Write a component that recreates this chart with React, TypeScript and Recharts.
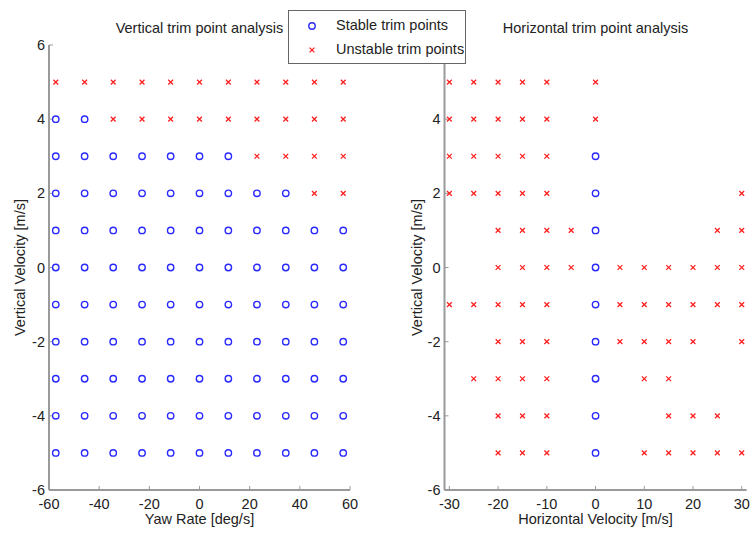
import React from "react";
import {Label, Legend, Scatter, ScatterChart, XAxis, YAxis} from "recharts";

// vertical velocity rows, top to bottom [m/s]
const vertVel = [5, 4, 3, 2, 1, 0, -1, -2, -3, -4, -5];
// yaw rate columns [deg/s]
const yawRate = [-57.3, -45.8, -34.4, -22.9, -11.5, 0, 11.5, 22.9, 34.4, 45.8, 57.3];
// horizontal velocity columns [m/s]
const horizVel = [-30, -25, -20, -15, -10, -5, 0, 5, 10, 15, 20, 25, 30];

// o = stable, x = unstable, . = no trim point (one string per row of vertVel)
const yawGrid = [
    "xxxxxxxxxxx",
    "ooxxxxxxxxx",
    "oooooooxxxx",
    "oooooooooxx",
    "ooooooooooo",
    "ooooooooooo",
    "ooooooooooo",
    "ooooooooooo",
    "ooooooooooo",
    "ooooooooooo",
    "ooooooooooo",
];
const horizGrid = [
    "xxxxx.x......",
    "xxxxx.x......",
    "xxxxx.o......",
    "xxxxx.o.....x",
    "..xxxxo....xx",
    "..xxxxoxxxxxx",
    "xxxxx.oxxxxxx",
    "..xxx.oxxxx.x",
    ".xxxx.o.xx...",
    "..xxx.o..xxx.",
    "..xxx.o.xxxxx",
];

const yTicks = [-6, -4, -2, 0, 2, 4, 6];
// top tick of the right plot sits under the legend
const yTicksRight = [-6, -4, -2, 0, 2, 4];
const yawTicks = [-60, -40, -20, 0, 20, 40, 60];
const horizTicks = [-30, -20, -10, 0, 10, 20, 30];

type Pt = {x: number, y: number};

const pick = (cols: number[], grid: string[], mark: string): Pt[] => {
    const out: Pt[] = [];
    grid.forEach((row, i) => {
        row.split("").forEach((c, j) => {
            if (c === mark) out.push({x: cols[j], y: vertVel[i]});
        });
    });
    return out;
};

const yawStable = pick(yawRate, yawGrid, "o");
const yawUnstable = pick(yawRate, yawGrid, "x");
const horizStable = pick(horizVel, horizGrid, "o");
const horizUnstable = pick(horizVel, horizGrid, "x");

const BLUE = "#2a2aff";
const RED = "#ff2020";
const AXIS = "#9a9a9a";
const TXT = "#222";
const FS = 14.5;

const Ring = (p: any) => <circle cx={p.cx} cy={p.cy} r={3.2} fill="none" stroke={BLUE} strokeWidth={1.4}/>;
const Cross = (p: any) => {
    const {cx, cy} = p;
    const s = 2.4;
    return <path d={`M${cx - s},${cy - s}L${cx + s},${cy + s}M${cx - s},${cy + s}L${cx + s},${cy - s}`}
                 stroke={RED} strokeWidth={1.3} fill="none"/>;
};

const LegendBox = () => <div style={{
    width: 178, height: 54, border: "1px solid #666", background: "#fff",
    fontSize: FS, color: TXT, boxSizing: "border-box", position: "relative"
}}>
    <svg width={20} height={52} style={{position: "absolute", left: 13, top: 0}}>
        <circle cx={10} cy={15} r={3.2} fill="none" stroke={BLUE} strokeWidth={1.4}/>
        <path d="M7.6,36.6L12.4,41.4M7.6,41.4L12.4,36.6" stroke={RED} strokeWidth={1.3}/>
    </svg>
    <div style={{position: "absolute", left: 47, top: 6, whiteSpace: "nowrap"}}>Stable trim points</div>
    <div style={{position: "absolute", left: 47, top: 30, whiteSpace: "nowrap"}}>Unstable trim points</div>
</div>;

const axisProps = {
    axisLine: {stroke: AXIS, strokeWidth: 2},
    tickLine: {stroke: AXIS},
    tickSize: -4,
    tick: {fontSize: FS, fill: TXT},
};

const App: React.FC = () => {
    return <div style={{
        position: "absolute", left: 0, top: 0, width: 752, height: 534, background: "#fff",
        fontFamily: '"Liberation Sans", Arial, sans-serif'
    }}>
        <div style={{position: "absolute", left: 0, top: 0, zIndex: 2}}>
            <ScatterChart width={376} height={534} margin={{top: 45, right: 26, bottom: 0, left: 0}}>
                <XAxis type="number" dataKey="x" domain={[-60, 60]} ticks={yawTicks} height={44}
                       tickMargin={13} interval={0} {...axisProps}>
                    <Label value="Yaw Rate [deg/s]" position="insideBottom" offset={10}
                           style={{fontSize: FS, fill: TXT}}/>
                </XAxis>
                <YAxis type="number" dataKey="y" domain={[-6, 6]} ticks={yTicks} width={49}
                       tickMargin={8} interval={0} {...axisProps}>
                    <Label value="Vertical Velocity [m/s]" angle={-90} position="insideLeft" offset={20}
                           style={{fontSize: FS, fill: TXT, textAnchor: "middle"}}/>
                </YAxis>
                <Legend layout="vertical" align="center" verticalAlign="middle" content={<LegendBox/>}
                        wrapperStyle={{left: 288, top: 10, width: 178, height: 54}}/>
                <Scatter name="Stable trim points" data={yawStable} shape={Ring} isAnimationActive={false}/>
                <Scatter name="Unstable trim points" data={yawUnstable} shape={Cross} isAnimationActive={false}/>
            </ScatterChart>
        </div>
        <div style={{position: "absolute", left: 376, top: 0, zIndex: 1}}>
            <ScatterChart width={376} height={534} margin={{top: 45, right: 5.4, bottom: 0, left: 0}}>
                <XAxis type="number" dataKey="x" domain={[-31, 31]} ticks={horizTicks} height={44}
                       tickMargin={13} interval={0} allowDataOverflow {...axisProps}>
                    <Label value="Horizontal Velocity [m/s]" position="insideBottom" offset={10}
                           style={{fontSize: FS, fill: TXT}}/>
                </XAxis>
                <YAxis type="number" dataKey="y" domain={[-6, 6]} ticks={yTicksRight} width={68.5}
                       tickMargin={8} interval={0} {...axisProps}>
                    <Label value="Vertical Velocity [m/s]" angle={-90} position="insideLeft" offset={41}
                           style={{fontSize: FS, fill: TXT, textAnchor: "middle"}}/>
                </YAxis>
                <Scatter name="Stable trim points" data={horizStable} shape={Ring} isAnimationActive={false}/>
                <Scatter name="Unstable trim points" data={horizUnstable} shape={Cross} isAnimationActive={false}/>
            </ScatterChart>
        </div>
        <div style={{position: "absolute", left: 49, width: 301, top: 19, textAlign: "center",
            fontSize: FS, color: TXT, zIndex: 3, lineHeight: "18px"}}>Vertical trim point analysis</div>
        <div style={{position: "absolute", left: 444.5, width: 302, top: 19, textAlign: "center",
            fontSize: FS, color: TXT, zIndex: 3, lineHeight: "18px"}}>Horizontal trim point analysis</div>
    </div>;
};

export default App;
